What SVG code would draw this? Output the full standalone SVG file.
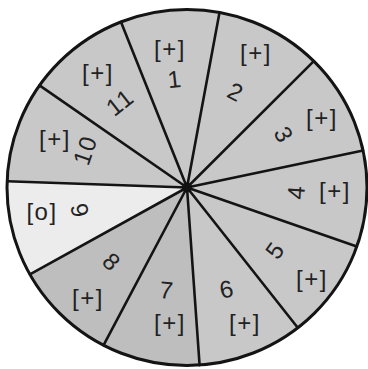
<svg xmlns="http://www.w3.org/2000/svg" width="368" height="369" viewBox="0 0 368 369">
<style>
.sec{fill:#c8c8c8;stroke:none}
.light{fill:#ececec}
.dark{fill:#bebebe}
.t{font-family:"Liberation Sans",Arial,sans-serif;font-size:24px;fill:#222;text-anchor:middle;dominant-baseline:central;letter-spacing:1.5px}
</style>
<rect width="368" height="369" fill="#ffffff"/>
<g id="sector-1"><path class="sec" d="M187,187.5 L121,21.9 A180,178 0 0 1 219.5,12.4 Z"/><text class="t" x="170" y="48">[+]</text><text class="t" x="175" y="79" transform="rotate(-6 175 79)">1</text></g>
<g id="sector-2"><path class="sec" d="M187,187.5 L219.5,12.4 A180,178 0 0 1 313.8,61.2 Z"/><text class="t" x="256" y="52">[+]</text><text class="t" x="236" y="92" transform="rotate(27 236 92)">2</text></g>
<g id="sector-3"><path class="sec" d="M187,187.5 L313.8,61.2 A180,178 0 0 1 363.1,150.5 Z"/><text class="t" x="322" y="117">[+]</text><text class="t" x="284" y="135" transform="rotate(61 284 135)">3</text></g>
<g id="sector-4"><path class="sec" d="M187,187.5 L363.1,150.5 A180,178 0 0 1 356.8,246.6 Z"/><text class="t" x="335" y="190">[+]</text><text class="t" x="296" y="192" transform="rotate(-86 296 192)">4</text></g>
<g id="sector-5"><path class="sec" d="M187,187.5 L356.8,246.6 A180,178 0 0 1 297.8,327.8 Z"/><text class="t" x="312" y="278">[+]</text><text class="t" x="275" y="250" transform="rotate(-54 275 250)">5</text></g>
<g id="sector-6"><path class="sec" d="M187,187.5 L297.8,327.8 A180,178 0 0 1 199.6,365.1 Z"/><text class="t" x="245" y="322">[+]</text><text class="t" x="227" y="289" transform="rotate(-12 227 289)">6</text></g>
<g id="sector-7"><path class="sec dark" d="M187,187.5 L199.6,365.1 A180,178 0 0 1 103.6,345.2 Z"/><text class="t" x="170" y="322">[+]</text><text class="t" x="167" y="290" transform="rotate(6 167 290)">7</text></g>
<g id="sector-8"><path class="sec dark" d="M187,187.5 L103.6,345.2 A180,178 0 0 1 29.9,274.3 Z"/><text class="t" x="88" y="297">[+]</text><text class="t" x="112" y="262" transform="rotate(44 112 262)">8</text></g>
<g id="sector-9"><path class="sec light" d="M187,187.5 L29.9,274.3 A180,178 0 0 1 7.1,181.3 Z"/><text class="t" x="42" y="211">[o]</text><text class="t" x="80" y="211" transform="rotate(76 80 211)">9</text></g>
<g id="sector-10"><path class="sec" d="M187,187.5 L7.1,181.3 A180,178 0 0 1 39.5,85.4 Z"/><text class="t" x="55" y="138">[+]</text><text class="t" x="85" y="150" transform="rotate(-71 85 150)">10</text></g>
<g id="sector-11"><path class="sec" d="M187,187.5 L39.5,85.4 A180,178 0 0 1 121,21.9 Z"/><text class="t" x="98" y="72">[+]</text><text class="t" x="120" y="102" transform="rotate(-38 120 102)">11</text></g>
<g id="connectors" stroke="#141414" stroke-width="2.6" fill="none" stroke-linecap="round">
<path d="M187,187.5 L121,21.9 M187,187.5 L219.5,12.4 M187,187.5 L313.8,61.2 M187,187.5 L363.1,150.5 M187,187.5 L356.8,246.6 M187,187.5 L297.8,327.8 M187,187.5 L199.6,365.1 M187,187.5 L103.6,345.2 M187,187.5 L29.9,274.3 M187,187.5 L7.1,181.3 M187,187.5 L39.5,85.4"/>
<ellipse cx="187" cy="187.5" rx="180" ry="178" stroke-width="3"/>
<circle cx="187" cy="187.5" r="5" fill="#111" stroke="none"/>
</g>
</svg>
